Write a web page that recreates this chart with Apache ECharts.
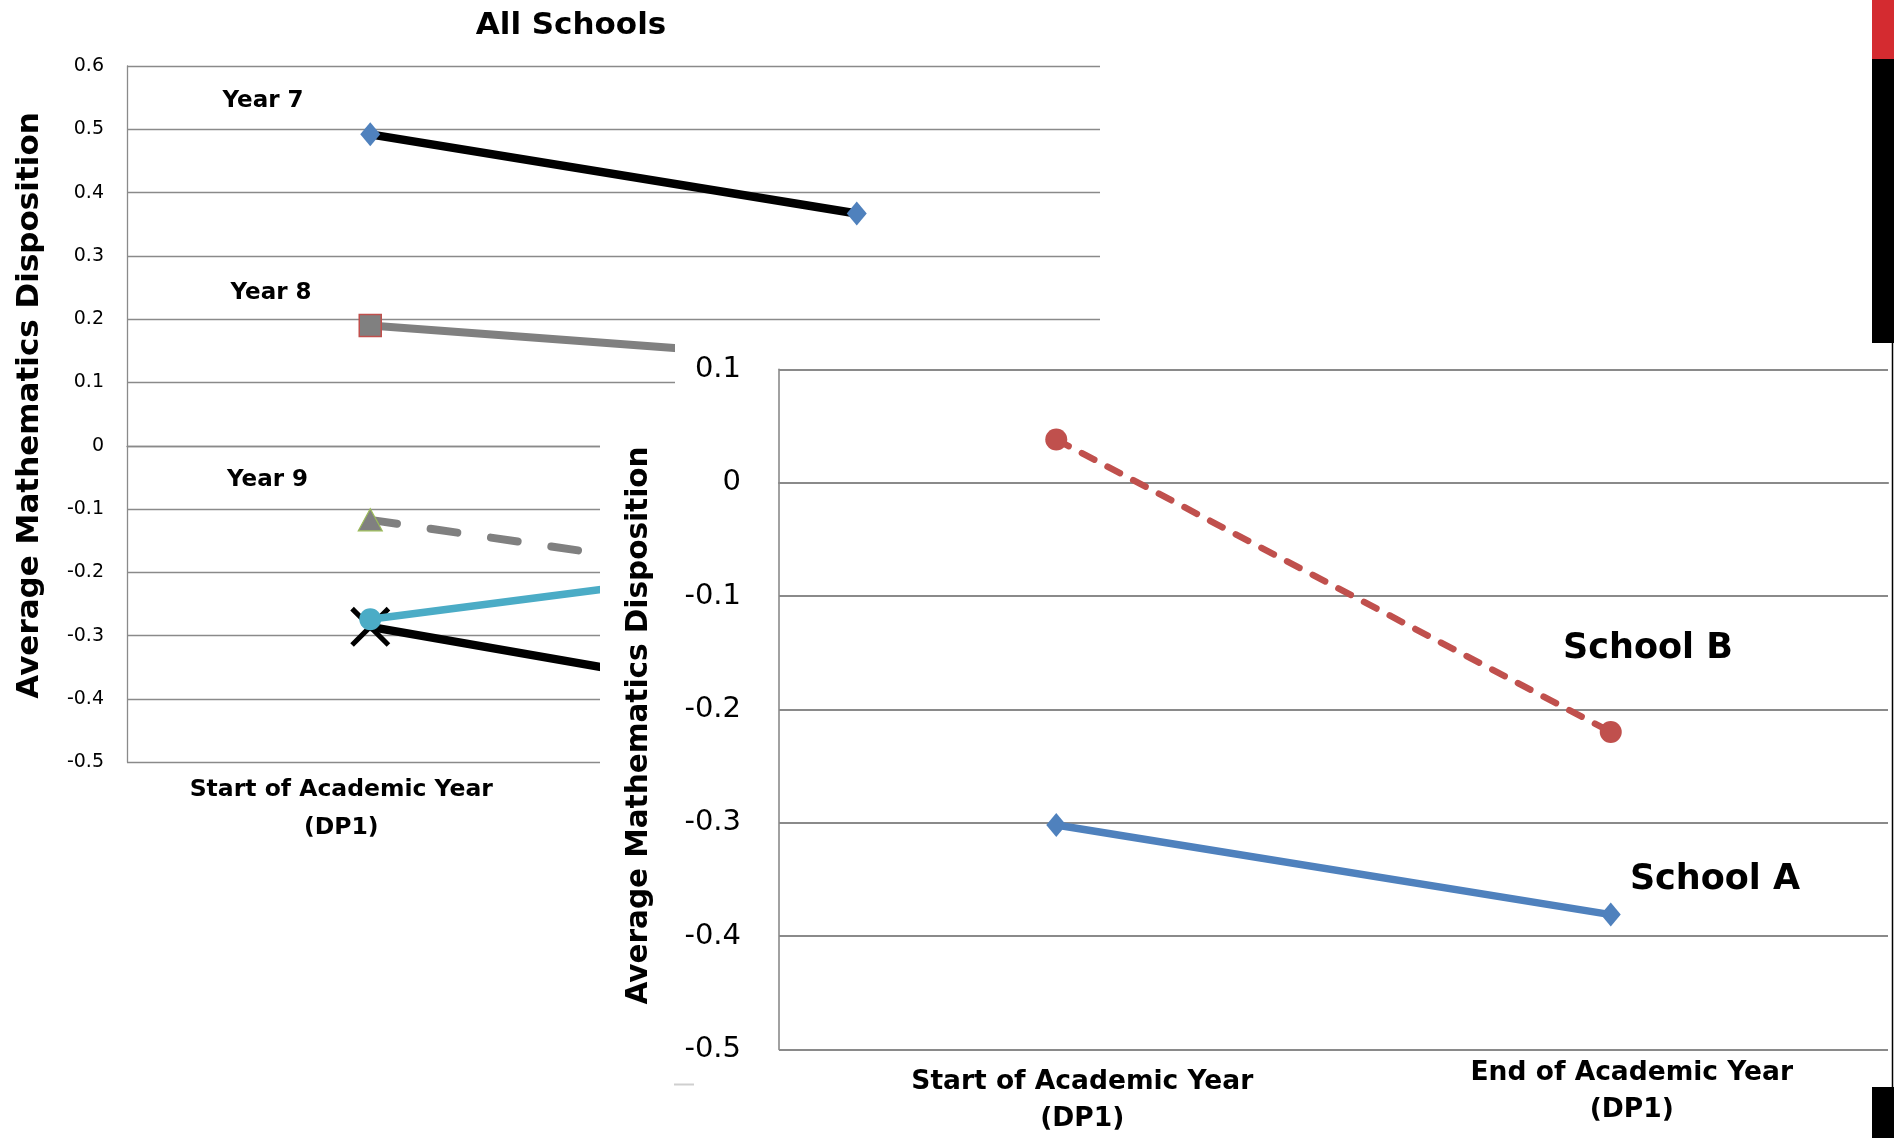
<!DOCTYPE html>
<html>
<head>
<meta charset="utf-8">
<script src="https://cdn.jsdelivr.net/npm/echarts@6/dist/echarts.min.js"></script>
<style>
  html, body { margin: 0; padding: 0; background: #ffffff; }
  #main { width: 1894px; height: 1138px; }
</style>
</head>
<body>
<div id="main"></div>
<script>
// Measurement points (both panels share them)
const periods = ['Start of Academic Year\n(DP1)', 'End of Academic Year\n(DP1)'];

// "All Schools" panel: average disposition per year group
const year7 = [0.492, 0.367];
const year8 = [0.19, 0.133];
const year9 = [-0.117, -0.23];
const groupCyan = [-0.274, -0.175];
const groupCross = [-0.286, -0.42];

// School comparison panel
const schoolA = [-0.302, -0.381];
const schoolB = [0.038, -0.22];

// Value-axis ticks
const allSchoolsTicks = [-0.5, -0.4, -0.3, -0.2, -0.1, 0, 0.1, 0.2, 0.3, 0.4, 0.5, 0.6];
const schoolTicks = [-0.5, -0.4, -0.3, -0.2, -0.1, 0, 0.1];

const SANS = '"DejaVu Sans", "Liberation Sans", sans-serif';
const GRID_GRAY = '#8a8a8a';
const crossPath = 'path://M1.8,0L10,8.2L18.2,0L20,1.8L11.8,10L20,18.2L18.2,20L10,11.8L1.8,20L0,18.2L8.2,10L0,1.8Z';

function tickText(v) {
  if (Math.abs(v) < 1e-9) return '0';
  return String(+v.toFixed(1));
}

const chart = echarts.init(document.getElementById('main'), null, { renderer: 'canvas' });

const option = {
  animation: false,
  backgroundColor: '#ffffff',
  grid: [
    { left: 127, top: 66, width: 973, height: 696.3, containLabel: false },
    { left: 779, top: 369.3, width: 1109, height: 684.7, containLabel: false }
  ],
  xAxis: [
    {
      gridIndex: 0, type: 'category', data: periods, boundaryGap: true, z: 0,
      axisLine: { show: true, lineStyle: { color: GRID_GRAY, width: 1.3 } },
      axisTick: { show: false },
      axisLabel: {
        interval: 0, margin: 9, color: '#000', fontFamily: SANS, fontWeight: 'bold',
        fontSize: 23.5, lineHeight: 38, padding: [0, 58, 0, 0]
      }
    },
    {
      gridIndex: 1, type: 'category', boundaryGap: true, z: 6,
      data: [
        { value: periods[0], textStyle: { padding: [9, 0, 0, 52] } },
        { value: periods[1], textStyle: { padding: [0, 0, 0, 42] } }
      ],
      axisLine: { show: true, lineStyle: { color: GRID_GRAY, width: 2.2 } },
      axisTick: { show: false },
      axisLabel: {
        interval: 0, margin: 5.5, color: '#000', fontFamily: SANS, fontWeight: 'bold',
        fontSize: 26.5, lineHeight: 37
      }
    }
  ],
  yAxis: [
    {
      gridIndex: 0, type: 'value', z: 0,
      min: allSchoolsTicks[0], max: allSchoolsTicks[allSchoolsTicks.length - 1], interval: 0.1,
      axisLine: { show: true, lineStyle: { color: GRID_GRAY, width: 1.3 } },
      axisTick: { show: false },
      splitLine: { show: true, lineStyle: { color: GRID_GRAY, width: 1.3 } },
      axisLabel: { margin: 23, color: '#000', fontFamily: SANS, fontSize: 19, formatter: tickText }
    },
    {
      gridIndex: 1, type: 'value', z: 6,
      min: schoolTicks[0], max: schoolTicks[schoolTicks.length - 1], interval: 0.1,
      axisLine: { show: true, lineStyle: { color: GRID_GRAY, width: 1.6 } },
      axisTick: { show: false },
      splitLine: { show: true, lineStyle: { color: GRID_GRAY, width: 2.2 } },
      axisLabel: { margin: 38, color: '#000', fontFamily: SANS, fontSize: 29, formatter: tickText }
    }
  ],
  series: [
    {
      name: 'Year 7', type: 'line', xAxisIndex: 0, yAxisIndex: 0, data: year7, z: 2,
      symbol: 'diamond', symbolSize: [20, 24], showAllSymbol: true,
      lineStyle: { color: '#000000', width: 8.5 },
      itemStyle: { color: '#4F81BD' }
    },
    {
      name: 'Year 8', type: 'line', xAxisIndex: 0, yAxisIndex: 0, data: year8, z: 2,
      symbol: 'rect', symbolSize: 22,
      lineStyle: { color: '#808080', width: 8 },
      itemStyle: { color: '#808080', borderColor: '#C0504D', borderWidth: 1.5 }
    },
    {
      name: 'Year 9', type: 'line', xAxisIndex: 0, yAxisIndex: 0, data: year9, z: 2,
      symbol: 'triangle', symbolSize: [24, 22],
      lineStyle: { color: '#808080', width: 8, type: [27, 34], cap: 'round' },
      itemStyle: { color: '#808080', borderColor: '#9BBB59', borderWidth: 1.2 }
    },
    {
      name: 'Cross group', type: 'line', xAxisIndex: 0, yAxisIndex: 0, data: groupCross, z: 2,
      symbol: crossPath, symbolSize: 40,
      lineStyle: { color: '#000000', width: 8.5 },
      itemStyle: { color: '#000000' }
    },
    {
      name: 'Circle group', type: 'line', xAxisIndex: 0, yAxisIndex: 0, data: groupCyan, z: 3,
      symbol: 'circle', symbolSize: 22,
      lineStyle: { color: '#4BACC6', width: 7.5 },
      itemStyle: { color: '#4BACC6' }
    },
    {
      name: 'School B', type: 'line', xAxisIndex: 1, yAxisIndex: 1, data: schoolB, z: 12,
      symbol: 'circle', symbolSize: 22,
      lineStyle: { color: '#C0504D', width: 6.5, type: [14, 15], cap: 'round' },
      itemStyle: { color: '#C0504D' }
    },
    {
      name: 'School A', type: 'line', xAxisIndex: 1, yAxisIndex: 1, data: schoolA, z: 12,
      symbol: 'diamond', symbolSize: [20, 24],
      lineStyle: { color: '#4F81BD', width: 7.5 },
      itemStyle: { color: '#4F81BD' }
    }
  ],
  graphic: {
    elements: [
      // white backing of the school comparison panel
      {
        type: 'polygon', z: 5, silent: true,
        shape: { points: [[675, 343], [1894, 343], [1894, 1138], [600, 1138], [600, 410], [675, 410]] },
        style: { fill: '#ffffff', stroke: null }
      },
      // frame pieces along the right edge
      { type: 'rect', z: 9, shape: { x: 1872, y: 0, width: 22, height: 59 }, style: { fill: '#D42B30' } },
      { type: 'rect', z: 9, shape: { x: 1872, y: 59, width: 22, height: 284 }, style: { fill: '#000000' } },
      { type: 'rect', z: 9, shape: { x: 1872, y: 1087, width: 22, height: 51 }, style: { fill: '#000000' } },
      { type: 'line', z: 9, shape: { x1: 1892.5, y1: 343, x2: 1892.5, y2: 1087 }, style: { stroke: '#000000', lineWidth: 1.5 } },
      { type: 'line', z: 9, shape: { x1: 674, y1: 1084.5, x2: 694, y2: 1084.5 }, style: { stroke: '#cfcfcf', lineWidth: 2 } },
      // titles and annotations
      {
        type: 'text', z: 10, x: 571, y: 26,
        style: { text: 'All Schools', font: 'bold 31px ' + SANS, fill: '#000', textAlign: 'center', textVerticalAlign: 'middle' }
      },
      {
        type: 'text', z: 3, x: 30, y: 405.5, rotation: Math.PI / 2,
        style: { text: 'Average Mathematics Disposition', font: 'bold 31px ' + SANS, fill: '#000', textAlign: 'center', textVerticalAlign: 'middle' }
      },
      {
        type: 'text', z: 10, x: 639, y: 725.5, rotation: Math.PI / 2,
        style: { text: 'Average Mathematics Disposition', font: 'bold 29.5px ' + SANS, fill: '#000', textAlign: 'center', textVerticalAlign: 'middle' }
      },
      {
        type: 'text', z: 3, x: 263, y: 101,
        style: { text: 'Year 7', font: 'bold 23px ' + SANS, fill: '#000', textAlign: 'center', textVerticalAlign: 'middle' }
      },
      {
        type: 'text', z: 3, x: 271, y: 293,
        style: { text: 'Year 8', font: 'bold 23px ' + SANS, fill: '#000', textAlign: 'center', textVerticalAlign: 'middle' }
      },
      {
        type: 'text', z: 3, x: 267.5, y: 480.5,
        style: { text: 'Year 9', font: 'bold 23px ' + SANS, fill: '#000', textAlign: 'center', textVerticalAlign: 'middle' }
      },
      {
        type: 'text', z: 10, x: 1648, y: 649,
        style: { text: 'School B', font: 'bold 35px ' + SANS, fill: '#000', textAlign: 'center', textVerticalAlign: 'middle' }
      },
      {
        type: 'text', z: 10, x: 1715, y: 879.5,
        style: { text: 'School A', font: 'bold 35px ' + SANS, fill: '#000', textAlign: 'center', textVerticalAlign: 'middle' }
      }
    ]
  }
};

chart.setOption(option);
</script>
</body>
</html>
